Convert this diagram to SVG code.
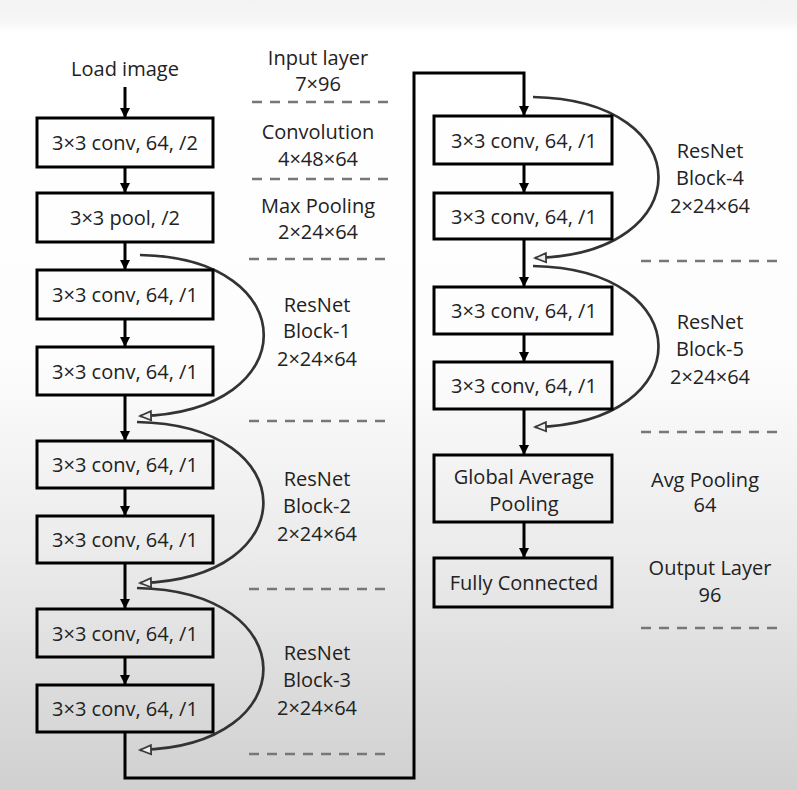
<svg xmlns="http://www.w3.org/2000/svg" width="797" height="790" viewBox="0 0 797 790">
<defs>
<linearGradient id="bg" x1="0" y1="0" x2="0" y2="1">
<stop offset="0" stop-color="#f3f3f3"/>
<stop offset="0.028" stop-color="#f6f6f6"/>
<stop offset="0.04" stop-color="#ffffff"/>
<stop offset="0.45" stop-color="#fdfdfd"/>
<stop offset="0.7" stop-color="#ebebeb"/>
<stop offset="1" stop-color="#d0d0d0"/>
</linearGradient>
<marker id="ah" viewBox="0 0 10 10" refX="10" refY="5" markerWidth="10" markerHeight="10" markerUnits="userSpaceOnUse" orient="auto">
<path d="M0,0 L10,5 L0,10 z" fill="#000"/>
</marker>
<marker id="hollow" viewBox="0 0 16 14" refX="14" refY="7" markerWidth="16" markerHeight="14" markerUnits="userSpaceOnUse" orient="auto">
<path d="M14,7 L3,2.5 L3,11.5 z" fill="#eeeeee" stroke="#3a3a3a" stroke-width="1.8" stroke-linejoin="miter"/>
</marker>
<style>
.box{fill:none;stroke:#000;stroke-width:3}
.t{font-family:"Open Sans","Liberation Sans",Arial,sans-serif;font-size:20px;fill:#222;text-anchor:middle}
.flow{fill:none;stroke:#000;stroke-width:3}
.skip{fill:none;stroke:#333;stroke-width:2.7}
.dash{stroke:#777;stroke-width:2.5;stroke-dasharray:10 8}
</style>
</defs>
<rect width="797" height="790" fill="url(#bg)"/>

<g id="connectors">
<line class="flow" x1="125" y1="87" x2="125" y2="118" marker-end="url(#ah)"/>
<line class="flow" x1="125" y1="167" x2="125" y2="193" marker-end="url(#ah)"/>
<line class="flow" x1="125" y1="242" x2="125" y2="270" marker-end="url(#ah)"/>
<line class="flow" x1="125" y1="319" x2="125" y2="347" marker-end="url(#ah)"/>
<line class="flow" x1="125" y1="395" x2="125" y2="441" marker-end="url(#ah)"/>
<line class="flow" x1="125" y1="488" x2="125" y2="516" marker-end="url(#ah)"/>
<line class="flow" x1="125" y1="563" x2="125" y2="609" marker-end="url(#ah)"/>
<line class="flow" x1="125" y1="657" x2="125" y2="685" marker-end="url(#ah)"/>
<path class="flow" d="M125,732 V778 H414 V73 H524 V116" marker-end="url(#ah)"/>
<line class="flow" x1="524" y1="164" x2="524" y2="193" marker-end="url(#ah)"/>
<line class="flow" x1="524" y1="239" x2="524" y2="287" marker-end="url(#ah)"/>
<line class="flow" x1="524" y1="334" x2="524" y2="362" marker-end="url(#ah)"/>
<line class="flow" x1="524" y1="409" x2="524" y2="455" marker-end="url(#ah)"/>
<line class="flow" x1="524" y1="522" x2="524" y2="558" marker-end="url(#ah)"/>

<path class="skip" d="M140,255 C305,258 305,412 140,416" marker-end="url(#hollow)"/>
<path class="skip" d="M137,422 C305,425 305,579 140,583" marker-end="url(#hollow)"/>
<path class="skip" d="M137,588 C305,591 305,746 140,750" marker-end="url(#hollow)"/>
<path class="skip" d="M533,97 C700,100 700,254 535,258" marker-end="url(#hollow)"/>
<path class="skip" d="M533,266 C700,269 700,423 535,427" marker-end="url(#hollow)"/>
</g>

<g id="dividers">
<line class="dash" x1="252" y1="102" x2="390" y2="102"/>
<line class="dash" x1="252" y1="179" x2="390" y2="179"/>
<line class="dash" x1="249" y1="259" x2="387" y2="259"/>
<line class="dash" x1="249" y1="421" x2="387" y2="421"/>
<line class="dash" x1="249" y1="589" x2="387" y2="589"/>
<line class="dash" x1="249" y1="754" x2="387" y2="754"/>
<line class="dash" x1="641" y1="261" x2="779" y2="261"/>
<line class="dash" x1="641" y1="432" x2="779" y2="432"/>
<line class="dash" x1="641" y1="628" x2="779" y2="628"/>
</g>

<g id="load"><text class="t" x="125" y="76">Load image</text></g>

<g id="n1"><rect class="box" x="37" y="118" width="176" height="49"/><text class="t" x="125" y="150">3×3 conv, 64, /2</text></g>
<g id="n2"><rect class="box" x="37" y="193" width="176" height="49"/><text class="t" x="125" y="225">3×3 pool, /2</text></g>
<g id="n3"><rect class="box" x="37" y="270" width="176" height="49"/><text class="t" x="125" y="302">3×3 conv, 64, /1</text></g>
<g id="n4"><rect class="box" x="37" y="347" width="176" height="48"/><text class="t" x="125" y="379">3×3 conv, 64, /1</text></g>
<g id="n5"><rect class="box" x="37" y="441" width="176" height="47"/><text class="t" x="125" y="472">3×3 conv, 64, /1</text></g>
<g id="n6"><rect class="box" x="37" y="516" width="176" height="47"/><text class="t" x="125" y="547">3×3 conv, 64, /1</text></g>
<g id="n7"><rect class="box" x="37" y="609" width="176" height="48"/><text class="t" x="125" y="641">3×3 conv, 64, /1</text></g>
<g id="n8"><rect class="box" x="37" y="685" width="176" height="47"/><text class="t" x="125" y="716">3×3 conv, 64, /1</text></g>

<g id="r1"><rect class="box" x="434" y="116" width="178" height="48"/><text class="t" x="524" y="148">3×3 conv, 64, /1</text></g>
<g id="r2"><rect class="box" x="434" y="193" width="178" height="46"/><text class="t" x="524" y="224">3×3 conv, 64, /1</text></g>
<g id="r3"><rect class="box" x="434" y="287" width="178" height="47"/><text class="t" x="524" y="318">3×3 conv, 64, /1</text></g>
<g id="r4"><rect class="box" x="434" y="362" width="178" height="47"/><text class="t" x="524" y="393">3×3 conv, 64, /1</text></g>
<g id="r5"><rect class="box" x="434" y="455" width="178" height="67"/><text class="t" x="524" y="484">Global Average</text><text class="t" x="524" y="511">Pooling</text></g>
<g id="r6"><rect class="box" x="434" y="558" width="178" height="49"/><text class="t" x="524" y="590">Fully Connected</text></g>

<g id="labels">
<text class="t" x="318" y="65">Input layer</text>
<text class="t" x="318" y="91">7×96</text>
<text class="t" x="318" y="139">Convolution</text>
<text class="t" x="318" y="166">4×48×64</text>
<text class="t" x="318" y="213">Max Pooling</text>
<text class="t" x="318" y="239">2×24×64</text>
<text class="t" x="317" y="312">ResNet</text>
<text class="t" x="317" y="338">Block-1</text>
<text class="t" x="317" y="366">2×24×64</text>
<text class="t" x="317" y="486">ResNet</text>
<text class="t" x="317" y="513">Block-2</text>
<text class="t" x="317" y="541">2×24×64</text>
<text class="t" x="317" y="660">ResNet</text>
<text class="t" x="317" y="687">Block-3</text>
<text class="t" x="317" y="715">2×24×64</text>
<text class="t" x="710" y="158">ResNet</text>
<text class="t" x="710" y="185">Block-4</text>
<text class="t" x="710" y="213">2×24×64</text>
<text class="t" x="710" y="329">ResNet</text>
<text class="t" x="710" y="356">Block-5</text>
<text class="t" x="710" y="384">2×24×64</text>
<text class="t" x="705" y="487">Avg Pooling</text>
<text class="t" x="705" y="512">64</text>
<text class="t" x="710" y="575">Output Layer</text>
<text class="t" x="710" y="602">96</text>
</g>
</svg>
